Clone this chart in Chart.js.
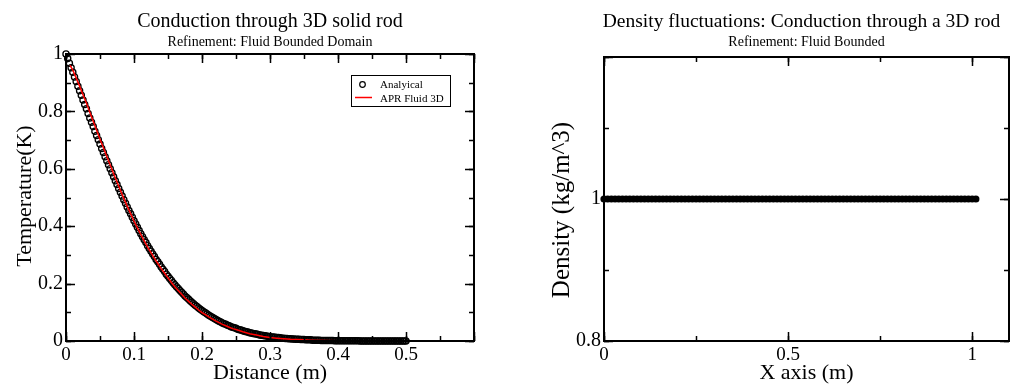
<!DOCTYPE html>
<html>
<head>
<meta charset="utf-8">
<script src="https://cdn.jsdelivr.net/npm/chart.js@4/dist/chart.umd.min.js"></script>
<style>
  html, body { margin: 0; padding: 0; background: #fff; }
  #wrap { position: relative; width: 1013px; height: 385px; overflow: hidden; background: #fff; }
  canvas { position: absolute; top: 0; }
  #left { left: 0; }
  #right { left: 506px; }
</style>
</head>
<body>
<div id="wrap">
  <canvas id="left" width="506" height="385"></canvas>
  <canvas id="right" width="507" height="385"></canvas>
</div>
<script>
// ---- Temperature along the rod: analytical solution (circles) ----
const distance = [
  0,0.0025,0.005,0.0075,0.01,0.0125,0.015,0.0175,0.02,0.0225,
  0.025,0.0275,0.03,0.0325,0.035,0.0375,0.04,0.0425,0.045,0.0475,
  0.05,0.0525,0.055,0.0575,0.06,0.0625,0.065,0.0675,0.07,0.0725,
  0.075,0.0775,0.08,0.0825,0.085,0.0875,0.09,0.0925,0.095,0.0975,
  0.1,0.1025,0.105,0.1075,0.11,0.1125,0.115,0.1175,0.12,0.1225,
  0.125,0.1275,0.13,0.1325,0.135,0.1375,0.14,0.1425,0.145,0.1475,
  0.15,0.1525,0.155,0.1575,0.16,0.1625,0.165,0.1675,0.17,0.1725,
  0.175,0.1775,0.18,0.1825,0.185,0.1875,0.19,0.1925,0.195,0.1975,
  0.2,0.2025,0.205,0.2075,0.21,0.2125,0.215,0.2175,0.22,0.2225,
  0.225,0.2275,0.23,0.2325,0.235,0.2375,0.24,0.2425,0.245,0.2475,
  0.25,0.2525,0.255,0.2575,0.26,0.2625,0.265,0.2675,0.27,0.2725,
  0.275,0.2775,0.28,0.2825,0.285,0.2875,0.29,0.2925,0.295,0.2975,
  0.3,0.3025,0.305,0.3075,0.31,0.3125,0.315,0.3175,0.32,0.3225,
  0.325,0.3275,0.33,0.3325,0.335,0.3375,0.34,0.3425,0.345,0.3475,
  0.35,0.3525,0.355,0.3575,0.36,0.3625,0.365,0.3675,0.37,0.3725,
  0.375,0.3775,0.38,0.3825,0.385,0.3875,0.39,0.3925,0.395,0.3975,
  0.4,0.4025,0.405,0.4075,0.41,0.4125,0.415,0.4175,0.42,0.4225,
  0.425,0.4275,0.43,0.4325,0.435,0.4375,0.44,0.4425,0.445,0.4475,
  0.45,0.4525,0.455,0.4575,0.46,0.4625,0.465,0.4675,0.47,0.4725,
  0.475,0.4775,0.48,0.4825,0.485,0.4875,0.49,0.4925,0.495,0.4975,
  0.5
];
const analyticalTemp = [
  1.000,0.984,0.968,0.952,0.936,0.920,0.904,0.888,0.872,0.856,
  0.840,0.824,0.809,0.793,0.777,0.762,0.747,0.731,0.716,0.701,
  0.686,0.671,0.657,0.642,0.628,0.614,0.600,0.586,0.572,0.558,
  0.545,0.531,0.518,0.505,0.492,0.480,0.467,0.455,0.443,0.431,
  0.419,0.408,0.396,0.385,0.374,0.363,0.353,0.343,0.332,0.322,
  0.313,0.303,0.294,0.284,0.276,0.267,0.258,0.250,0.242,0.233,
  0.226,0.218,0.211,0.203,0.196,0.189,0.183,0.176,0.170,0.164,
  0.157,0.152,0.146,0.140,0.135,0.130,0.125,0.120,0.115,0.111,
  0.106,0.102,0.098,0.094,0.090,0.086,0.083,0.079,0.076,0.072,
  0.069,0.066,0.063,0.060,0.058,0.055,0.053,0.050,0.048,0.046,
  0.044,0.041,0.039,0.038,0.036,0.034,0.032,0.031,0.029,0.028,
  0.026,0.025,0.024,0.023,0.021,0.020,0.019,0.018,0.017,0.016,
  0.015,0.014,0.014,0.013,0.012,0.012,0.011,0.010,0.010,0.009,
  0.009,0.008,0.008,0.007,0.007,0.006,0.006,0.006,0.005,0.005,
  0.005,0.004,0.004,0.004,0.004,0.003,0.003,0.003,0.003,0.003,
  0.002,0.002,0.002,0.002,0.002,0.002,0.002,0.002,0.001,0.001,
  0.001,0.001,0.001,0.001,0.001,0.001,0.001,0.001,0.001,0.001,
  0.001,0.001,0.001,0,0,0,0,0,0,0,
  0,0,0,0,0,0,0,0,0,0,
  0,0,0,0,0,0,0,0,0,0,
  0
];

// ---- Temperature from the APR fluid 3D run (red line) ----
const aprDistance = [
  0.006,0.01,0.015,0.02,0.025,0.03,0.035,0.04,0.045,0.05,
  0.055,0.06,0.065,0.07,0.075,0.08,0.085,0.09,0.095,0.1,
  0.105,0.11,0.115,0.12,0.125,0.13,0.135,0.14,0.145,0.15,
  0.155,0.16,0.165,0.17,0.175,0.18,0.185,0.19,0.195,0.2,
  0.205,0.21,0.215,0.22,0.225,0.23,0.235,0.24,0.245,0.25,
  0.26,0.27,0.28,0.29,0.3,0.31,0.32,0.33,0.34,0.35,0.36,
  0.38,0.4,0.43,0.46,0.5
];
const aprTemp = [
  0.960,0.944,0.916,0.888,0.858,0.829,0.797,0.766,0.734,0.703,
  0.673,0.643,0.613,0.583,0.554,0.525,0.497,0.470,0.444,0.418,
  0.394,0.371,0.349,0.327,0.308,0.288,0.270,0.252,0.236,0.220,
  0.204,0.189,0.176,0.163,0.150,0.139,0.128,0.118,0.108,0.099,
  0.092,0.084,0.077,0.070,0.064,0.058,0.053,0.048,0.043,0.040,
  0.032,0.025,0.021,0.016,0.012,0.010,0.008,0.006,0.005,0.004,0.003,
  0.002,0.001,0.000,0.000,0.000
];

// ---- Density of the fluid particles along the rod ----
const particleX = [
  0,0.01,0.02,0.03,0.04,0.05,0.06,0.07,0.08,0.09,
  0.1,0.11,0.12,0.13,0.14,0.15,0.16,0.17,0.18,0.19,
  0.2,0.21,0.22,0.23,0.24,0.25,0.26,0.27,0.28,0.29,
  0.3,0.31,0.32,0.33,0.34,0.35,0.36,0.37,0.38,0.39,
  0.4,0.41,0.42,0.43,0.44,0.45,0.46,0.47,0.48,0.49,
  0.5,0.51,0.52,0.53,0.54,0.55,0.56,0.57,0.58,0.59,
  0.6,0.61,0.62,0.63,0.64,0.65,0.66,0.67,0.68,0.69,
  0.7,0.71,0.72,0.73,0.74,0.75,0.76,0.77,0.78,0.79,
  0.8,0.81,0.82,0.83,0.84,0.85,0.86,0.87,0.88,0.89,
  0.9,0.91,0.92,0.93,0.94,0.95,0.96,0.97,0.98,0.99,
  1.0,1.01
];
const particleDensity = [
  1,1,1,1,1,1,1,1,1,1, 1,1,1,1,1,1,1,1,1,1,
  1,1,1,1,1,1,1,1,1,1, 1,1,1,1,1,1,1,1,1,1,
  1,1,1,1,1,1,1,1,1,1, 1,1,1,1,1,1,1,1,1,1,
  1,1,1,1,1,1,1,1,1,1, 1,1,1,1,1,1,1,1,1,1,
  1,1,1,1,1,1,1,1,1,1, 1,1,1,1,1,1,1,1,1,1,
  1,1
];

// ---- Tick values and text ----
const tempXTicks = [0, 0.1, 0.2, 0.3, 0.4, 0.5, 0.6];
const tempYTicks = [0, 0.2, 0.4, 0.6, 0.8, 1];
const densXTicks = [0, 0.5, 1, 1.1];
const densYTicks = [0.8, 1, 1.2];
const legendLabels = ['Analyical', 'APR Fluid 3D'];
const leftTitle = 'Conduction through 3D solid rod';
const leftSubtitle = 'Refinement: Fluid Bounded Domain';
const rightTitle = 'Density fluctuations: Conduction through a 3D rod';
const rightSubtitle = 'Refinement: Fluid Bounded';

const SERIF = '"Liberation Serif", "Times New Roman", serif';

function pairs(xs, ys) { return xs.map((v, i) => ({ x: v, y: ys[i] })); }
function fmt(v) { return String(+v.toFixed(2)); }

// Frame with inward ticks on all four sides, titles, axis titles and legend
const decor = {
  id: 'decor',
  afterDatasetsDraw(chart, args, o) {
    const { ctx, chartArea: a, scales: { x, y } } = chart;
    ctx.save();
    ctx.strokeStyle = '#000';
    ctx.lineCap = 'butt';
    ctx.lineWidth = 1.5;
    const steps = (min, max, step) => {
      const out = [];
      for (let k = 0; min + k * step <= max + 1e-9; k++) out.push(min + k * step);
      return out;
    };
    const xTick = (v, len) => {
      const px = Math.round(x.getPixelForValue(v)) + 0.5;
      ctx.beginPath();
      ctx.moveTo(px, a.bottom); ctx.lineTo(px, a.bottom - len);
      ctx.moveTo(px, a.top); ctx.lineTo(px, a.top + len);
      ctx.stroke();
    };
    const yTick = (v, len) => {
      const py = Math.round(y.getPixelForValue(v)) + 0.5;
      ctx.beginPath();
      ctx.moveTo(a.left, py); ctx.lineTo(a.left + len, py);
      ctx.moveTo(a.right, py); ctx.lineTo(a.right - len, py);
      ctx.stroke();
    };
    steps(x.min, x.max, o.xMinor).forEach(v => xTick(v, 5));
    steps(x.min, x.max, o.xMajor).forEach(v => xTick(v, 9));
    steps(y.min, y.max, o.yMinor).forEach(v => yTick(v, 5));
    steps(y.min, y.max, o.yMajor).forEach(v => yTick(v, 9));

    ctx.lineWidth = 2;
    ctx.strokeRect(a.left, a.top, a.right - a.left, a.bottom - a.top);

    ctx.fillStyle = '#000';
    ctx.textAlign = 'center';
    ctx.textBaseline = 'alphabetic';
    const cx = (a.left + a.right) / 2;
    ctx.font = o.titleSize + 'px ' + SERIF;
    ctx.fillText(o.title, cx + (o.titleShift || 0), 27);
    ctx.font = '14px ' + SERIF;
    ctx.fillText(o.subtitle, cx, 46);
    ctx.font = '22px ' + SERIF;
    ctx.fillText(o.xTitle, cx, 379);
    ctx.save();
    ctx.translate(o.yTitleX, o.yTitleY);
    ctx.rotate(-Math.PI / 2);
    ctx.font = o.yTitleSize + 'px ' + SERIF;
    ctx.fillText(o.yTitle, 0, 0);
    ctx.restore();

    if (o.legend) {
      const L = o.legend;
      ctx.fillStyle = '#fff';
      ctx.fillRect(L.x, L.y, L.w, L.h);
      ctx.lineWidth = 1;
      ctx.strokeStyle = '#000';
      ctx.strokeRect(L.x + 0.5, L.y + 0.5, L.w, L.h);
      ctx.lineWidth = 1.2;
      ctx.beginPath();
      ctx.arc(L.x + 11.5, L.y + 9.5, 2.8, 0, Math.PI * 2);
      ctx.stroke();
      ctx.strokeStyle = '#ff0000';
      ctx.lineWidth = 1.5;
      ctx.beginPath();
      ctx.moveTo(L.x + 4, L.y + 22.5); ctx.lineTo(L.x + 21, L.y + 22.5);
      ctx.stroke();
      ctx.fillStyle = '#000';
      ctx.textAlign = 'left';
      ctx.font = '11px ' + SERIF;
      ctx.fillText(legendLabels[0], L.x + 29, L.y + 13);
      ctx.fillText(legendLabels[1], L.x + 29, L.y + 26.5);
    }
    ctx.restore();
  }
};

function axisCommon(size, values, hideAbove) {
  return {
    type: 'linear',
    min: values[0],
    max: values[values.length - 1],
    grid: { display: false, drawTicks: false },
    border: { display: false },
    afterBuildTicks(s) { s.ticks = values.map(v => ({ value: v })); },
    ticks: {
      color: '#000', font: { family: SERIF, size: size }, padding: 3,
      maxRotation: 0, autoSkip: false,
      callback: v => (v > hideAbove ? '' : fmt(v))
    }
  };
}

// Left panel: temperature profile
const leftX = axisCommon(19, tempXTicks, 0.55);
leftX.afterFit = s => { s.height = 44; };
const leftY = axisCommon(20, tempYTicks, 2);
leftY.afterFit = s => { s.width = 66; };

new Chart(document.getElementById('left'), {
  type: 'scatter',
  data: {
    datasets: [
      {
        label: legendLabels[0],
        data: pairs(distance, analyticalTemp),
        showLine: false,
        pointStyle: 'circle',
        pointRadius: 3.1,
        pointBorderWidth: 1.3,
        pointBorderColor: '#000',
        pointBackgroundColor: 'rgba(0,0,0,0)',
        clip: false,
        order: 2
      },
      {
        label: legendLabels[1],
        data: pairs(aprDistance, aprTemp),
        showLine: true,
        borderColor: '#ff0000',
        borderWidth: 1.5,
        pointRadius: 0,
        fill: false,
        tension: 0,
        order: 1
      }
    ]
  },
  options: {
    responsive: false,
    animation: false,
    devicePixelRatio: 1,
    layout: { padding: { top: 54, right: 32, bottom: 0, left: 0 } },
    plugins: {
      legend: { display: false },
      tooltip: { enabled: false },
      decor: {
        title: leftTitle, titleSize: 20, subtitle: leftSubtitle,
        xTitle: 'Distance (m)', yTitle: 'Temperature(K)', yTitleSize: 22,
        yTitleX: 31, yTitleY: 196,
        xMajor: 0.1, xMinor: 0.05, yMajor: 0.2, yMinor: 0.1,
        legend: { x: 351, y: 75, w: 99, h: 31 }
      }
    },
    scales: { x: leftX, y: leftY }
  },
  plugins: [decor]
});

// Right panel: density along the rod
const rightX = axisCommon(19, densXTicks, 1.05);
rightX.afterFit = s => { s.height = 44; };
const rightY = axisCommon(20, densYTicks, 1.15);
rightY.afterFit = s => { s.width = 98; };

new Chart(document.getElementById('right'), {
  type: 'scatter',
  data: {
    datasets: [
      {
        label: 'Density',
        data: pairs(particleX, particleDensity),
        showLine: false,
        pointStyle: 'circle',
        pointRadius: 3.6,
        pointBorderWidth: 0,
        pointBackgroundColor: '#000',
        clip: false
      }
    ]
  },
  options: {
    responsive: false,
    animation: false,
    devicePixelRatio: 1,
    layout: { padding: { top: 57, right: 1, bottom: 0, left: 0 } },
    plugins: {
      legend: { display: false },
      tooltip: { enabled: false },
      decor: {
        title: rightTitle, titleSize: 19.5, titleShift: -5, subtitle: rightSubtitle,
        xTitle: 'X axis (m)', yTitle: 'Density (kg/m^3)', yTitleSize: 25,
        yTitleX: 569 - 506, yTitleY: 210,
        xMajor: 0.5, xMinor: 0.25, yMajor: 0.2, yMinor: 0.1
      }
    },
    scales: { x: rightX, y: rightY }
  },
  plugins: [decor]
});
</script>
</body>
</html>
